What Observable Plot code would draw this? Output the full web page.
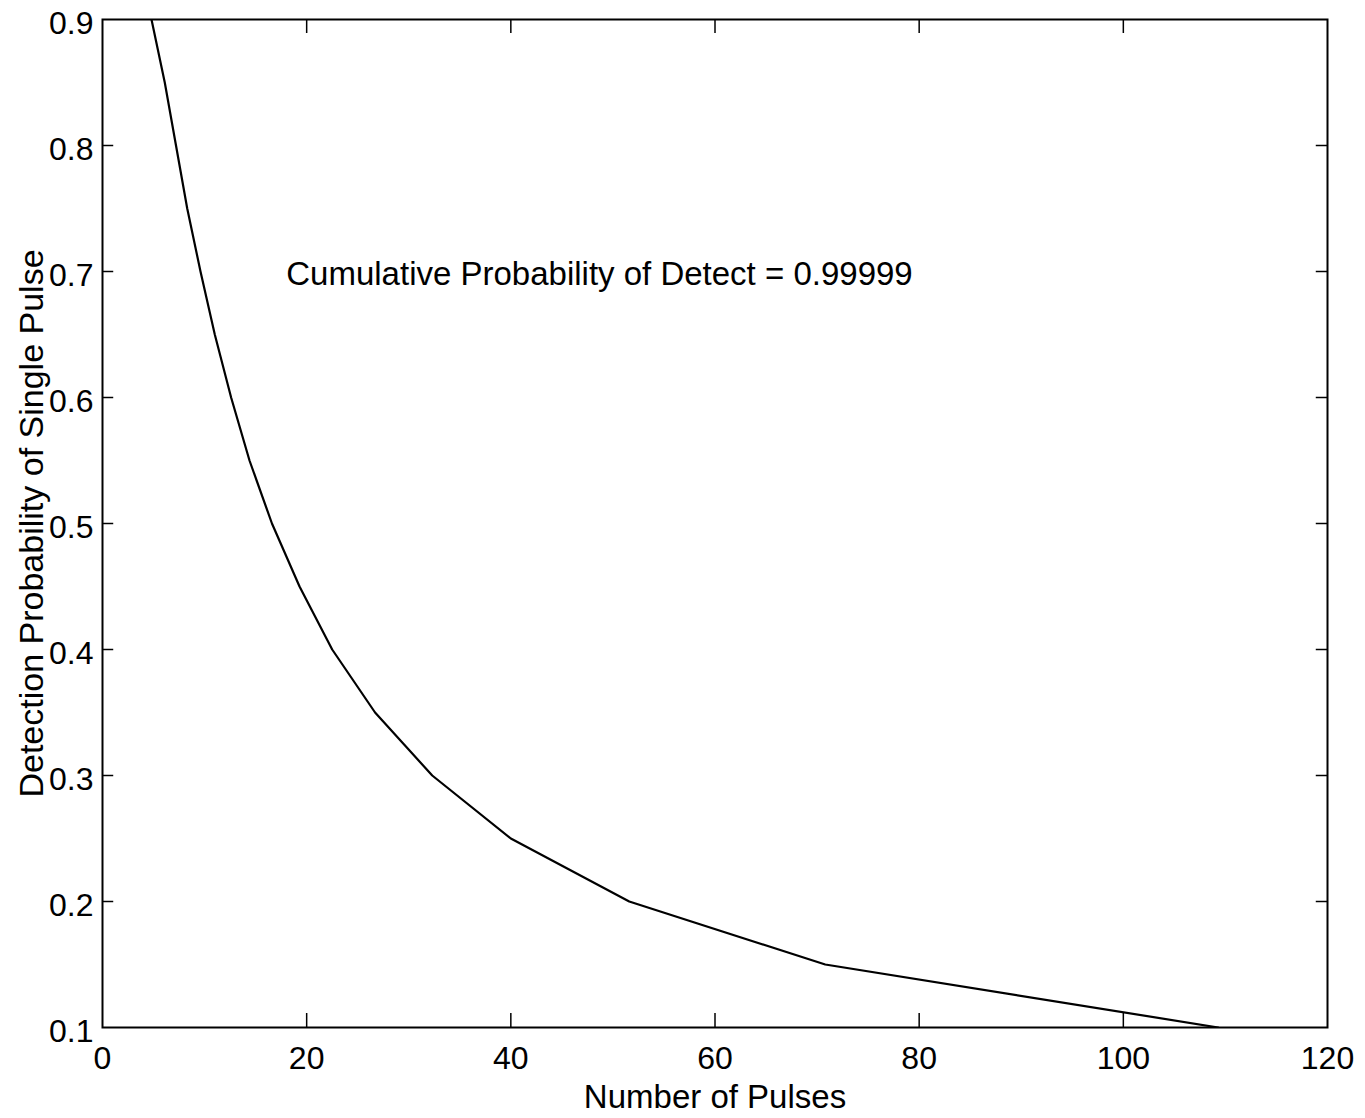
<!DOCTYPE html>
<html>
<head>
<meta charset="utf-8">
<script src="https://cdn.jsdelivr.net/npm/d3@7"></script>
<script src="https://cdn.jsdelivr.net/npm/@observablehq/plot@0.6"></script>
<style>
  html, body { margin: 0; padding: 0; background: #fff; }
  svg { display: block; }
</style>
</head>
<body>
<div id="chart"></div>
<script>
// Number of pulses needed (x) for each single-pulse detection probability (y)
const pulses = [4.8, 6.1, 7.2, 8.3, 9.6, 11.0, 12.6, 14.4, 16.6, 19.3, 22.5, 26.7, 32.3, 40.0, 51.6, 70.8, 109.3];
const singleProb = [0.9, 0.85, 0.8, 0.75, 0.7, 0.65, 0.6, 0.55, 0.5, 0.45, 0.4, 0.35, 0.3, 0.25, 0.2, 0.15, 0.1];

const xTicks = [0, 20, 40, 60, 80, 100, 120];
const yTicks = [0.1, 0.2, 0.3, 0.4, 0.5, 0.6, 0.7, 0.8, 0.9];

const annotation = "Cumulative Probability of Detect = 0.99999";
const annotationPos = {x: 18.0, y: 0.698};
const xLabel = "Number of Pulses";
const yLabel = "Detection Probability of Single Pulse";

const data = pulses.map((n, i) => ({n, p: singleProb[i]}));

const xMin = 0, xMax = 120, yMin = 0.1, yMax = 0.9;
const xTickLen = 0.0111; // inward tick length on horizontal edges (y units)
const yTickLen = 1.1;    // inward tick length on vertical edges (x units)
const innerX = xTicks.filter(d => d > xMin && d < xMax);
const innerY = yTicks.filter(d => d > yMin && d < yMax);

const chart = Plot.plot({
  width: 1365,
  height: 1118,
  marginLeft: 102,
  marginRight: 38,
  marginTop: 19,
  marginBottom: 91,
  style: {fontFamily: "'Liberation Sans', Arial, sans-serif", fontSize: "32px", color: "#000", background: "#fff"},
  x: {domain: [xMin, xMax]},
  y: {domain: [yMin, yMax]},
  marks: [
    Plot.axisX({ticks: xTicks, tickSize: 0, tickPadding: 19, tickFormat: d => String(d), label: null, fontSize: 32}),
    Plot.axisY({ticks: yTicks, tickSize: 0, tickPadding: 9, dy: 4, tickFormat: d3.format(".1f"), label: null, fontSize: 32}),
    // inward ticks, all four sides
    Plot.ruleX(innerX, {x: d => d, y1: yMin, y2: yMin + xTickLen, stroke: "#000", strokeWidth: 1.5}),
    Plot.ruleX(innerX, {x: d => d, y1: yMax, y2: yMax - xTickLen, stroke: "#000", strokeWidth: 1.5}),
    Plot.ruleY(innerY, {y: d => d, x1: xMin, x2: xMin + yTickLen, stroke: "#000", strokeWidth: 1.5}),
    Plot.ruleY(innerY, {y: d => d, x1: xMax, x2: xMax - yTickLen, stroke: "#000", strokeWidth: 1.5}),
    Plot.frame({stroke: "#000", strokeWidth: 2}),
    Plot.line(data, {x: "n", y: "p", stroke: "#000", strokeWidth: 2.2, clip: true}),
    Plot.text([annotation], {x: annotationPos.x, y: annotationPos.y, text: d => d, textAnchor: "start", fontSize: 33, fill: "#000"}),
    Plot.text([xLabel], {frameAnchor: "bottom", dy: 70, lineAnchor: "middle", text: d => d, fontSize: 33, fill: "#000"}),
    Plot.text([yLabel], {frameAnchor: "left", dx: -70, textAnchor: "middle", lineAnchor: "middle", rotate: -90, text: d => d, fontSize: 34, fill: "#000"})
  ]
});

document.getElementById("chart").appendChild(chart);
</script>
</body>
</html>
